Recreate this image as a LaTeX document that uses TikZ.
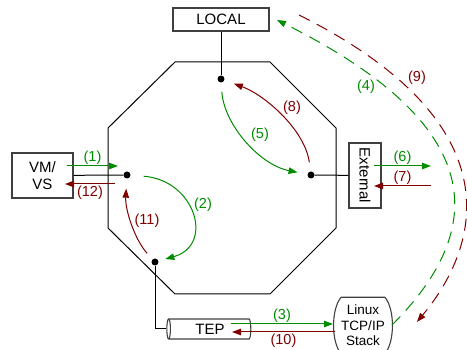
\documentclass[tikz,border=0pt]{standalone}
\usepackage{fontspec}
\setmainfont{Liberation Sans}
\usetikzlibrary{shapes.geometric, arrows.meta, positioning, calc}

\definecolor{pathgreen}{RGB}{0,140,0}
\definecolor{pathred}{RGB}{128,0,0}

\tikzset{
  box/.style={draw=black!75, line width=1.1pt, inner sep=0pt, font=\fontsize{15}{17}\selectfont},
  joint/.style={circle, fill, inner sep=0pt, minimum size=7pt},
  fwd/.style={pathgreen, line width=1pt, -{Triangle[length=9pt,width=6.5pt]}},
  bwd/.style={pathred, line width=1pt, -{Triangle[length=9pt,width=6.5pt]}},
  far/.style={dash pattern=on 12pt off 8pt},
  lbl/.style={font=\fontsize{14.5}{16}\selectfont, inner sep=1pt},
}

\begin{document}
\begin{tikzpicture}[x=1pt,y=-1pt]
\clip (0,0) rectangle (467,350);

% Switch body
\draw[line width=1pt] (175,62) -- (270,62) -- (336,128) -- (336,228)
  -- (270,294) -- (175,294) -- (108,228) -- (108,128) -- cycle;

% Ports and attached boxes
\node[box, minimum width=96pt, minimum height=23pt] (local) at (221,19.5) {LOCAL};
\node[box, align=center, minimum width=61pt, minimum height=45pt] (vm) at (42.5,175.5) {VM/\\VS};
\node[box, rotate=-90, minimum width=65pt, minimum height=32pt] (ext) at (365,175.5) {External};
\node[box, cylinder, shape border rotate=180, aspect=0.35,
  minimum width=20pt, minimum height=84pt] (tep) at (210,329) {TEP};
\node[align=center, inner sep=0pt, minimum width=36pt, minimum height=56pt,
  font=\fontsize{13.5}{15.5}\selectfont] (stack) at (363,325.5) {Linux\\TCP/IP\\Stack};
\draw[black!75, line width=1.1pt] (stack.north west) -- (stack.north east)
  .. controls +(10,12) and +(10,-12) .. (stack.south east) -- (stack.south west)
  .. controls +(-10,-12) and +(-10,12) .. (stack.north west);

\node[joint] (localdot) at (221,79) {};
\node[joint] (vmdot) at (127,175) {};
\node[joint] (extdot) at (311,175) {};
\node[joint] (tepdot) at (155,262) {};

\draw[line width=1pt] (local) -- (localdot);
\draw[line width=1pt] (vm) -- (vmdot);
\draw[line width=1pt] (ext) -- (extdot);
\draw[line width=1pt] (tep.west) -| (tepdot);

% Straight hops
\coordinate (vmout) at (67,166);   \coordinate (vmin) at (118,166);
\coordinate (vmback) at (115,184); \coordinate (vmend) at (65,184);
\coordinate (extout) at (374,166); \coordinate (extin) at (431,166);
\coordinate (extback) at (431,186); \coordinate (extend) at (374,186);
\coordinate (tepout) at (231,324); \coordinate (tepin) at (333,324);
\coordinate (tepback) at (335,332); \coordinate (tepend) at (232,332);

\draw[fwd] (vmout) -- node[lbl, above, pathgreen] (l1) {(1)} (vmin);
\draw[bwd] (vmback) -- node[lbl, below, pathred] (l12) {(12)} (vmend);
\draw[fwd] (extout) -- node[lbl, above, pathgreen] (l6) {(6)} (extin);
\draw[bwd] (extback) -- node[lbl, above, pathred] (l7) {(7)} (extend);
\draw[fwd] (tepout) -- node[lbl, above, pathgreen] (l3) {(3)} (tepin);
\draw[bwd] (tepback) -- node[lbl, below, pathred] (l10) {(10)} (tepend);

% Curved hops inside the switch
\draw[fwd, shorten <=9pt, shorten >=10pt] (localdot)
  .. controls (224,125) and (260,165) .. (extdot);
\draw[bwd, shorten <=9pt, shorten >=10pt] (extdot)
  .. controls (305,130) and (265,95) .. (localdot);
\draw[fwd, shorten <=13pt, shorten >=7pt] (vmdot)
  .. controls (195,180) and (215,245) .. (tepdot);
\draw[bwd, shorten <=8pt, shorten >=10pt] (tepdot)
  .. controls (135,240) and (125,210) .. (vmdot);
\node[lbl, pathgreen] (l5) at (260,135) {(5)};
\node[lbl, pathred] (l8) at (292,108) {(8)};
\node[lbl, pathgreen] (l2) at (203,205) {(2)};
\node[lbl, pathred] (l11) at (147,221) {(11)};

% Long way round through the host stack
\coordinate (stackout) at (392,325);
\coordinate (localin) at (277,20);
\coordinate (localout) at (299,15);
\coordinate (stackin) at (417,322);
\draw[fwd, far] (stackout) .. controls (505,212) and (463,113) .. (localin);
\draw[bwd, far] (localout) .. controls (505,118) and (488,236) .. (stackin);
\node[lbl, pathgreen] (l4) at (366,87) {(4)};
\node[lbl, pathred] (l9) at (417,78) {(9)};
\end{tikzpicture}
\end{document}
